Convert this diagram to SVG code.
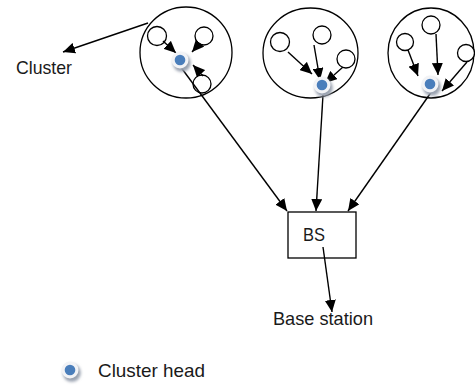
<svg xmlns="http://www.w3.org/2000/svg" width="475" height="385" viewBox="0 0 475 385">
<defs>
<marker id="ah" markerUnits="userSpaceOnUse" markerWidth="13" markerHeight="11" refX="12" refY="5.5" orient="auto">
<path d="M0,0 L12,5.5 L0,11 z" fill="#000"/>
</marker>
<filter id="blur" x="-50%" y="-50%" width="200%" height="200%"><feGaussianBlur stdDeviation="1.4"/></filter>
<g id="head">
<circle cx="1.8" cy="2.8" r="9" fill="#9aa2b0" filter="url(#blur)"/>
<circle cx="0" cy="0" r="8.5" fill="#f2f3f6"/>
<circle cx="0" cy="0" r="5.3" fill="#4a7ebb"/>
</g>
</defs>
<style>
.c{fill:none;stroke:#000;stroke-width:1.3}
.n{fill:#fff;stroke:#000;stroke-width:1.3}
.l{stroke:#000;stroke-width:1.4;fill:none;marker-end:url(#ah)}
text{font-family:"Liberation Sans",Arial,sans-serif;font-size:18.5px;fill:#1a1a1a}
</style>
<rect width="475" height="385" fill="#fff"/>
<g id="cluster1">
<ellipse class="c" cx="186" cy="52.5" rx="46" ry="45.5"/>
<circle class="n" cx="157" cy="36" r="9.5"/>
<circle class="n" cx="204" cy="36" r="9"/>
<circle class="n" cx="202" cy="84" r="9"/>
</g>
<g id="cluster2">
<ellipse class="c" cx="310.5" cy="53" rx="47.5" ry="45"/>
<circle class="n" cx="280" cy="42" r="9.5"/>
<circle class="n" cx="322" cy="35" r="9"/>
<circle class="n" cx="346" cy="59" r="9"/>
</g>
<g id="cluster3">
<ellipse class="c" cx="431" cy="53" rx="43" ry="45"/>
<circle class="n" cx="405" cy="42" r="8.5"/>
<circle class="n" cx="431" cy="25" r="9"/>
<circle class="n" cx="466" cy="53" r="8.5"/>
</g>
<g id="bs">
<rect x="288" y="212" width="68" height="46" fill="#fff" stroke="#000" stroke-width="1.3"/>
<text x="314" y="241" text-anchor="middle" textLength="22" lengthAdjust="spacingAndGlyphs">BS</text>
</g>
<g id="connectors">
<line class="l" x1="148" y1="23" x2="63" y2="52"/>
<line class="l" x1="163" y1="41" x2="176" y2="53"/>
<line class="l" x1="200" y1="43" x2="192" y2="52"/>
<line class="l" x1="203" y1="76" x2="193" y2="65"/>
<line class="l" x1="288" y1="52" x2="312" y2="74"/>
<line class="l" x1="314" y1="45" x2="320" y2="80"/>
<line class="l" x1="343" y1="67" x2="325" y2="83"/>
<line class="l" x1="408" y1="50" x2="418" y2="76"/>
<line class="l" x1="436" y1="34" x2="438" y2="75"/>
<line class="l" x1="467" y1="62" x2="442" y2="91"/>
<line class="l" x1="180" y1="66" x2="287" y2="211"/>
<line class="l" x1="323" y1="95" x2="316" y2="211"/>
<line class="l" x1="432" y1="91" x2="348" y2="211"/>
<line class="l" x1="323" y1="247" x2="332" y2="312"/>
</g>
<g id="heads">
<use href="#head" x="180" y="60"/>
<use href="#head" x="322" y="85"/>
<use href="#head" x="430" y="84"/>
</g>
<g id="labels">
<text x="16" y="74" textLength="56" lengthAdjust="spacingAndGlyphs">Cluster</text>
<text x="273" y="325" textLength="100" lengthAdjust="spacingAndGlyphs">Base station</text>
</g>
<g id="legend">
<use href="#head" x="70" y="370"/>
<text x="98" y="377" textLength="107" lengthAdjust="spacingAndGlyphs">Cluster head</text>
</g>
</svg>
